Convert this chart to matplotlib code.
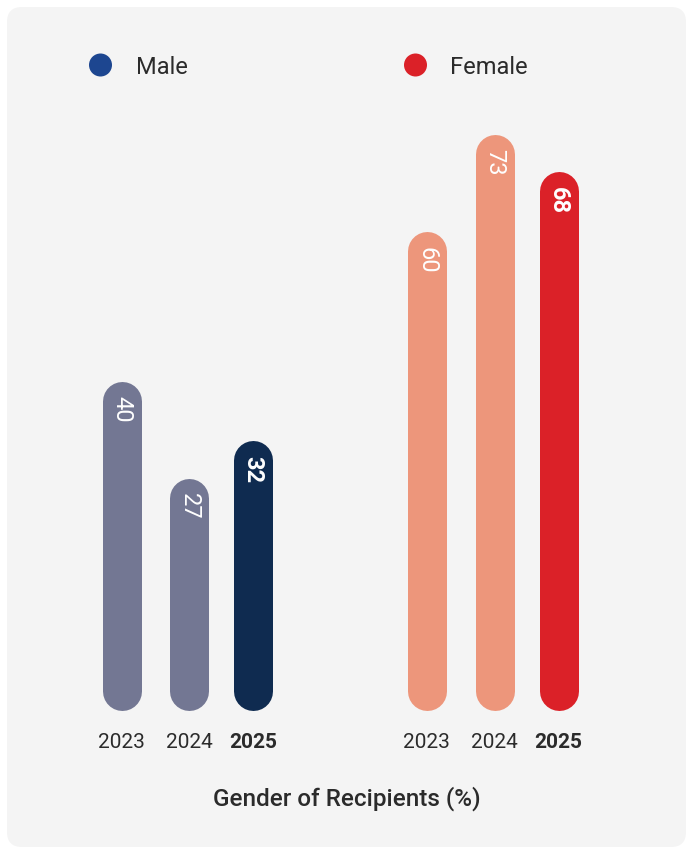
from matplotlib import pyplot as plt
from matplotlib.patches import FancyBboxPatch, Circle

plt.rcParams['font.family'] = ['Roboto', 'DejaVu Sans']

years = ['2023', '2024', '2025']
male = [40, 27, 32]
female = [60, 73, 68]
groups = ['Male', 'Female']
title = 'Gender of Recipients (%)'

male_colors = ['#737793', '#737793', '#0f2b50']
female_colors = ['#ed967b', '#ed967b', '#db2128']
legend_colors = ['#1d4690', '#db2128']
text_color = '#2b2b2b'

W, H = 687, 848
fig = plt.figure(figsize=(W / 100, H / 100), dpi=100)
fig.patch.set_facecolor('white')

# background axes in pixel coords
bg = fig.add_axes([0, 0, 1, 1])
bg.set_xlim(0, W)
bg.set_ylim(H, 0)
bg.axis('off')
bg.add_patch(FancyBboxPatch((7, 7), 679, 840, boxstyle='round,pad=0,rounding_size=15',
                            fc='#f4f4f4', ec='none'))

# bar axes: x in pixels, y in values
k = 7.475          # px per unit
base_px = 710
v0 = -4.0          # value at the bar baseline
ax = fig.add_axes([0, 0, 1, 1], zorder=2)
ax.patch.set_alpha(0)
ax.set_xlim(0, W)
ax.set_ylim(v0 - (H - base_px) / k, v0 + base_px / k)
ax.axis('off')

bw = 39
r = bw / 2 / k     # cap radius in value units
centers = [[121.5, 189, 253], [426.5, 494.5, 558.5]]
for g, (vals, cols) in enumerate([(male, male_colors), (female, female_colors)]):
    for i, (v, c) in enumerate(zip(vals, cols)):
        x = centers[g][i]
        ax.plot([x, x], [v0 + r, v - r], color=c, lw=bw * 0.72,
                solid_capstyle='round')
        bold = i == len(vals) - 1
        ax.text(x, v - 15 / k, str(v), rotation=270, ha='center', va='top',
                color='white', fontsize=17, fontweight='bold' if bold else 'normal')
        bg.text(x, 742, years[i], ha='center', va='center', color=text_color,
                fontsize=15, fontweight='bold' if bold else 'normal')

# legend
for g, (name, lx) in enumerate(zip(groups, [100.5, 415.5])):
    bg.add_patch(Circle((lx, 65), 11.5, fc=legend_colors[g], ec='none'))
    bg.text(lx + 35, 67, name, ha='left', va='center', color=text_color, fontsize=17)

bg.text(347, 799, title, ha='center', va='center', color=text_color,
        fontsize=17.5, fontweight='medium')

fig.savefig('out.png', dpi=100)
